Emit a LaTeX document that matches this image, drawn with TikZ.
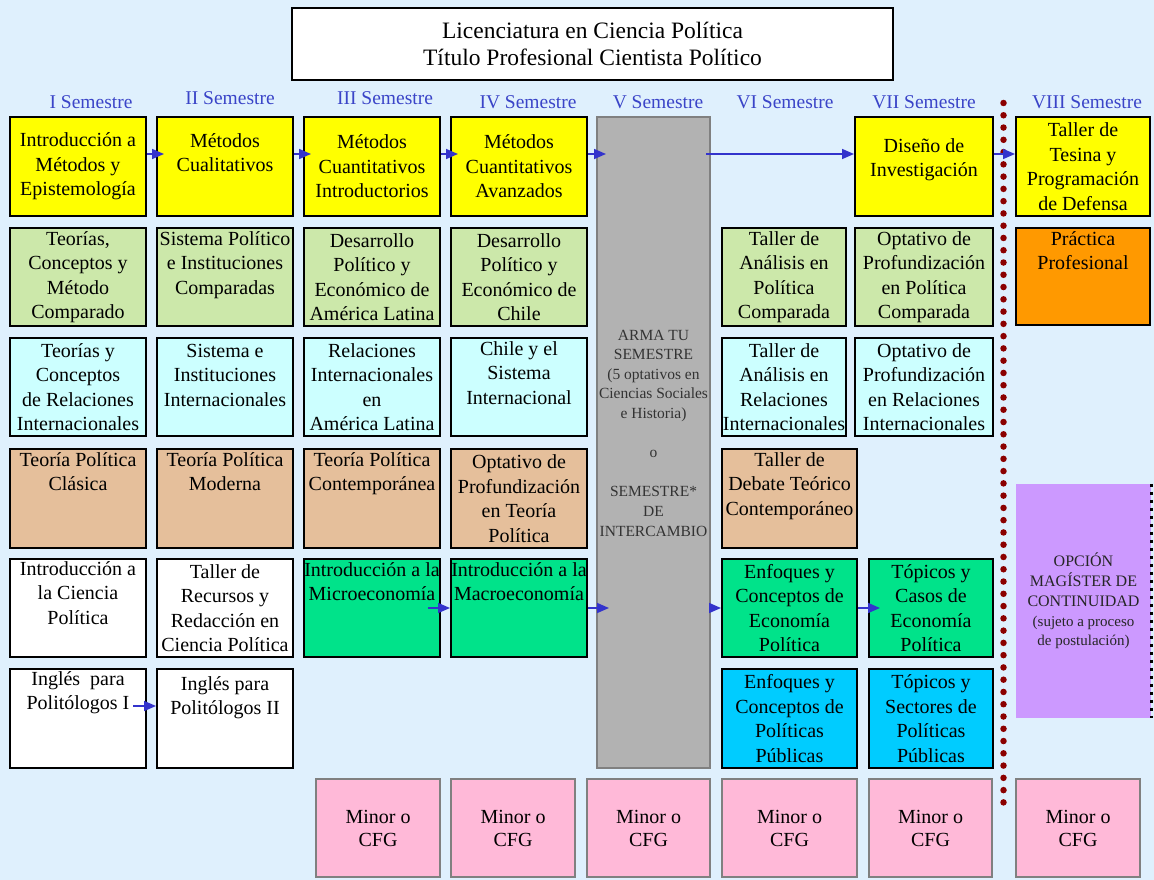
\documentclass[tikz,border=0pt]{standalone}
\usepackage{fontspec}
\setmainfont{Liberation Serif}
\usetikzlibrary{arrows.meta,positioning}

\definecolor{fondo}{RGB}{223,240,253}
\definecolor{metodo}{RGB}{255,255,0}
\definecolor{compar}{RGB}{204,232,170}
\definecolor{inter}{RGB}{204,255,255}
\definecolor{teoria}{RGB}{229,191,155}
\definecolor{econ}{RGB}{0,227,138}
\definecolor{publ}{RGB}{0,204,255}
\definecolor{practica}{RGB}{255,153,0}
\definecolor{magister}{RGB}{204,153,255}
\definecolor{minor}{RGB}{255,185,216}
\definecolor{arma}{RGB}{178,178,178}
\definecolor{semtxt}{RGB}{58,68,200}
\definecolor{flecha}{RGB}{51,51,204}
\definecolor{corte}{RGB}{139,0,0}

\begin{document}
\begin{tikzpicture}[x=1pt,y=-1pt,
  course/.style={draw=black, line width=2pt, minimum width=136pt,
                 minimum height=99pt, inner sep=0pt, align=center,
                 font=\fontsize{20}{24.5}\selectfont},
  toptxt/.style={anchor=north, inner sep=0pt, align=center,
                 font=\fontsize{20}{24.5}\selectfont},
  minorbox/.style={draw=gray, line width=2.5pt, fill=minor,
                   minimum height=98pt, inner sep=0pt, align=center,
                   font=\fontsize{20}{23}\selectfont},
  sem/.style={text=semtxt, inner sep=0pt, font=\fontsize{19.5}{22}\selectfont},
  arr/.style={draw=flecha, line width=1.6pt,
              -{Triangle[length=12pt,width=10pt]}},
  cut/.style={draw=corte, line width=6.5pt, line cap=round,
              dash pattern=on 0pt off 12.27pt},
]
\useasboundingbox (0,0) rectangle (1154,880);
\fill [fondo] (0,0) rectangle (1154,880);

\node [draw=black, line width=1.5pt, fill=white, minimum width=601pt,
       minimum height=72pt, align=center, font=\fontsize{23.5}{27}\selectfont]
  (titulo) at (592.5,44)
  {Licenciatura en Ciencia Política\\Título Profesional Cientista Político};

\foreach \x/\y/\l in {91/102/I, 230/98/II, 385/98/III, 528/102/IV,
                      658/102/V, 785/102/VI, 924/102/VII, 1087/102/VIII}
  \node [sem] (s\l) at (\x,\y) {\l\ Semestre};

% I - IV semestre
\node [course, fill=metodo] (intmet) at (78,166.5)
  {Introducción a\\Métodos y\\Epistemología};
\node [course, fill=metodo] (cual) at (225,166.5) {};
\node [toptxt, below=17pt of cual.north] (cual-t) {Métodos\\Cualitativos};
\node [course, fill=metodo] (cuantint) at (372,166.5)
  {Métodos\\Cuantitativos\\Introductorios};
\node [course, fill=metodo] (cuantav) at (519,166.5)
  {Métodos\\Cuantitativos\\Avanzados};

\node [course, fill=compar, minimum height=98pt] (teocomp) at (78,277)
  {Teorías,\\Conceptos y\\Método\\Comparado};
\node [course, fill=compar, minimum height=98pt] (sistpol) at (225,277) {};
\node [toptxt, below=4pt of sistpol.north] (sistpol-t)
  {Sistema Político\\e Instituciones\\Comparadas};
\node [course, fill=compar, minimum height=98pt] (desal) at (372,277)
  {Desarrollo\\Político y\\Económico de\\América Latina};
\node [course, fill=compar, minimum height=98pt] (dechile) at (519,277)
  {Desarrollo\\Político y\\Económico de\\Chile};

\node [course, fill=inter, minimum height=98pt] (teori) at (78,387)
  {Teorías y\\Conceptos\\de Relaciones\\Internacionales};
\node [course, fill=inter, minimum height=98pt] (sistint) at (225,387) {};
\node [toptxt, below=7pt of sistint.north] (sistint-t)
  {Sistema e\\Instituciones\\Internacionales};
\node [course, fill=inter, minimum height=98pt] (rial) at (372,387)
  {Relaciones\\Internacionales\\en\\América Latina};
\node [course, fill=inter, minimum height=98pt] (chisi) at (519,387) {};
\node [toptxt, below=4pt of chisi.north] (chisi-t)
  {Chile y el\\Sistema\\Internacional};

\node [course, fill=teoria] (tpclas) at (78,498.5) {};
\node [toptxt, below=4pt of tpclas.north] (tpclas-t) {Teoría Política\\Clásica};
\node [course, fill=teoria] (tpmod) at (225,498.5) {};
\node [toptxt, below=4pt of tpmod.north] (tpmod-t) {Teoría Política\\Moderna};
\node [course, fill=teoria] (tpcont) at (372,498.5) {};
\node [toptxt, below=4pt of tpcont.north] (tpcont-t)
  {Teoría Política\\Contemporánea};
\node [course, fill=teoria] (opttp) at (519,498.5)
  {Optativo de\\Profundización\\en Teoría\\Política};

\node [course, fill=white, minimum height=98pt] (icp) at (78,608) {};
\node [toptxt, below=3pt of icp.north] (icp-t)
  {Introducción a\\la Ciencia\\Política};
\node [course, fill=white, minimum height=98pt] (redac) at (225,608)
  {Taller de\\Recursos y\\Redacción en\\Ciencia Política};
\node [course, fill=econ, minimum height=98pt] (micro) at (372,608) {};
\node [toptxt, below=4pt of micro.north] (micro-t)
  {Introducción a la\\Microeconomía};
\node [course, fill=econ, minimum height=98pt] (macro) at (519,608) {};
\node [toptxt, below=4pt of macro.north] (macro-t)
  {Introducción a la\\Macroeconomía};

\node [course, fill=white] (ingl1) at (78,718.5) {};
\node [toptxt, below=3pt of ingl1.north] (ingl1-t)
  {Inglés\enspace para\\Politólogos I};
\node [course, fill=white] (ingl2) at (225,718.5) {};
\node [toptxt, below=8pt of ingl2.north] (ingl2-t)
  {Inglés para\\Politólogos II};

% V semestre
\node [draw=gray, line width=2pt, fill=arma, minimum width=113pt,
       minimum height=651pt] (arma) at (653.5,442.5) {};
\node [align=center, inner sep=0pt, text=black!80,
       font=\fontsize{15.5}{19.6}\selectfont] (arma-t)
  at ([yshift=9.5pt]arma.center)
  {ARMA TU\\SEMESTRE\\(5 optativos en\\Ciencias Sociales\\e Historia)\\[19.6pt]
   o\\[19.6pt]SEMESTRE*\\DE\\INTERCAMBIO};

% VI - VII semestre
\node [course, fill=compar, minimum width=124pt, minimum height=98pt]
  (tallpc) at (784,277) {Taller de\\Análisis en\\Política\\Comparada};
\node [course, fill=inter, minimum width=124pt, minimum height=98pt]
  (tallri) at (784,387) {Taller de\\Análisis en\\Relaciones\\Internacionales};
\node [course, fill=teoria, minimum width=135pt] (debate) at (789.5,498.5) {};
\node [toptxt, below=4pt of debate.north] (debate-t)
  {Taller de\\Debate Teórico\\Contemporáneo};
\node [course, fill=econ, minimum width=135pt, minimum height=98pt]
  (enfep) at (789.5,608) {Enfoques y\\Conceptos de\\Economía\\Política};
\node [course, fill=publ, minimum width=135pt] (enfpp) at (789.5,718.5)
  {Enfoques y\\Conceptos de\\Políticas\\Públicas};

\node [course, fill=metodo, minimum width=138pt] (diseno) at (924,166.5) {};
\node [toptxt, below=22pt of diseno.north] (diseno-t)
  {Diseño de\\Investigación};
\node [course, fill=compar, minimum width=138pt, minimum height=98pt]
  (optpc) at (924,277) {Optativo de\\Profundización\\en Política\\Comparada};
\node [course, fill=inter, minimum width=138pt, minimum height=98pt]
  (optri) at (924,387)
  {Optativo de\\Profundización\\en Relaciones\\Internacionales};
\node [course, fill=econ, minimum width=124pt, minimum height=98pt]
  (topep) at (931,608) {Tópicos y\\Casos de\\Economía\\Política};
\node [course, fill=publ, minimum width=124pt] (toppp) at (931,718.5)
  {Tópicos y\\Sectores de\\Políticas\\Públicas};

% VIII semestre
\node [course, fill=metodo, minimum width=134pt] (tesina) at (1083,166.5)
  {Taller de\\Tesina y\\Programación\\de Defensa};
\node [course, fill=practica, minimum width=134pt, minimum height=97pt]
  (practica) at (1083,276.5) {};
\node [toptxt, below=4pt of practica.north] (practica-t)
  {Práctica\\Profesional};
\node [fill=magister, minimum width=135pt, minimum height=234pt, inner sep=0pt,
       align=center, text=black!85, font=\fontsize{16}{19.8}\selectfont]
  (magister) at (1083.5,601)
  {OPCIÓN\\MAGÍSTER DE\\CONTINUIDAD\\
   {\fontsize{15}{19.8}\selectfont (sujeto a proceso}\\
   {\fontsize{15}{19.8}\selectfont de postulación)}};
\draw [line width=3pt, dash pattern=on 3pt off 5pt]
  (magister.north east) -- (magister.south east);

% minor o CFG
\foreach \n/\x/\w in {3/378/124, 4/513/124, 5/648.5/123, 6/789.5/135,
                      7/930.5/123, 8/1078/124}
  \node [minorbox, minimum width=\w pt] (min\n) at (\x,828) {Minor o\\CFG};

% linea de corte
\coordinate (corteA) at (1003.5,103);
\coordinate (corteB) at (1003.5,805);
\draw [cut] (corteA) -- (corteB);

% flechas
\coordinate (fila1) at (0,154);
\coordinate (fila5) at (0,608);
\coordinate (fila6) at (0,706);
\draw [arr, shorten >=-8pt] (intmet.east |- fila1) -- (cual.west |- fila1);
\draw [arr, shorten >=-8pt] (cual.east |- fila1) -- (cuantint.west |- fila1);
\draw [arr, shorten >=-8pt] (cuantint.east |- fila1) -- (cuantav.west |- fila1);
\draw [arr, shorten >=-10pt] (cuantav.east |- fila1) -- (arma.west |- fila1);
\draw [arr] ([xshift=-5pt]arma.east |- fila1) -- (diseno.west |- fila1);
\draw [arr] (diseno.east |- fila1) -- (tesina.west |- fila1);
\draw [arr] ([xshift=-13pt]micro.east |- fila5) -- (macro.west |- fila5);
\draw [arr, shorten >=-13pt] (macro.east |- fila5) -- (arma.west |- fila5);
\draw [arr] (arma.east |- fila5) -- (enfep.west |- fila5);
\draw [arr, shorten >=-12pt] (enfep.east |- fila5) -- (topep.west |- fila5);
\draw [arr] ([xshift=-14pt]ingl1.east |- fila6) -- (ingl2.west |- fila6);
\end{tikzpicture}
\end{document}
